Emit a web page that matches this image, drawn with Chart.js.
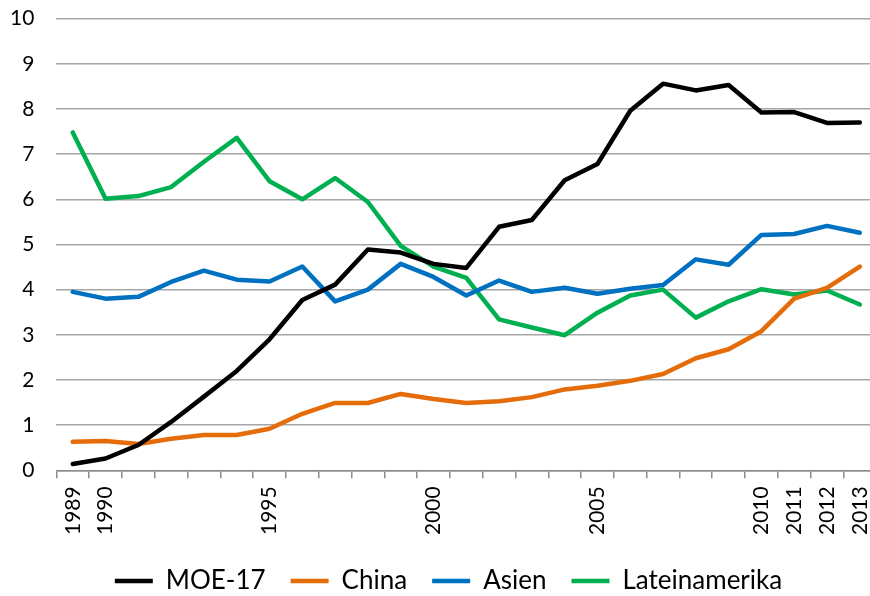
<!DOCTYPE html>
<html>
<head>
<meta charset="utf-8">
<script src="https://cdn.jsdelivr.net/npm/chart.js@4/dist/chart.umd.min.js"></script>
<style>
    html, body { margin: 0; padding: 0; background: #fff; overflow: hidden; }
    #wrap { width: 893px; height: 596px; }
</style>
</head>
<body>
<div id="wrap"><canvas id="lineChart" width="893" height="596"></canvas></div>
<script>
// --- Data ---
const years = ['1989', '1990', '1991', '1992', '1993', '1994', '1995', '1996', '1997', '1998',
    '1999', '2000', '2001', '2002', '2003', '2004', '2005', '2006', '2007', '2008',
    '2009', '2010', '2011', '2012', '2013'];
const shownYears = ['1989', '1990', '1995', '2000', '2005', '2010', '2011', '2012', '2013'];

const moe17 = [0.14, 0.26, 0.56, 1.07, 1.63, 2.20, 2.90, 3.77, 4.11, 4.89,
    4.82, 4.57, 4.48, 5.39, 5.54, 6.42, 6.78, 7.96, 8.56, 8.41,
    8.53, 7.92, 7.93, 7.69, 7.70];
const china = [0.63, 0.65, 0.58, 0.70, 0.78, 0.78, 0.92, 1.25, 1.49, 1.49,
    1.69, 1.58, 1.49, 1.53, 1.62, 1.79, 1.87, 1.98, 2.13, 2.48,
    2.68, 3.08, 3.80, 4.04, 4.51];
const asien = [3.95, 3.80, 3.84, 4.17, 4.42, 4.22, 4.18, 4.51, 3.74, 4.00,
    4.57, 4.28, 3.87, 4.20, 3.95, 4.04, 3.91, 4.02, 4.10, 4.67,
    4.55, 5.21, 5.23, 5.41, 5.26];
const lateinamerika = [7.48, 6.01, 6.07, 6.27, 6.83, 7.36, 6.40, 6.00, 6.47, 5.94,
    4.97, 4.51, 4.26, 3.34, 3.16, 2.99, 3.49, 3.87, 4.00, 3.38,
    3.74, 4.01, 3.89, 3.98, 3.67];

const seriesStyle = (label, data, color) => ({
    label: label,
    data: data,
    borderColor: color,
    backgroundColor: color,
    borderWidth: 4.5,
    borderCapStyle: 'round',
    borderJoinStyle: 'round',
    pointRadius: 0,
    tension: 0,
    fill: false
});

Chart.defaults.font.family = 'Lato, "Open Sans", sans-serif';
Chart.defaults.color = '#000';

const ctx = document.getElementById('lineChart').getContext('2d');
new Chart(ctx, {
    type: 'line',
    data: {
        labels: years,
        datasets: [
            seriesStyle('MOE-17', moe17, '#000000'),
            seriesStyle('China', china, '#E46C0A'),
            seriesStyle('Asien', asien, '#0070C0'),
            seriesStyle('Lateinamerika', lateinamerika, '#00B050')
        ]
    },
    options: {
        responsive: false,
        animation: false,
        // canvas is a bit wider than the window: the reference plot runs past the right edge
        layout: { padding: { left: 4, top: 0, right: 0, bottom: -8 } },
        plugins: {
            title: { display: false },
            tooltip: { enabled: false },
            legend: {
                position: 'bottom',
                labels: {
                    font: { size: 26 },
                    color: '#000',
                    usePointStyle: true,
                    pointStyle: 'line',
                    pointStyleWidth: 38,
                    padding: 25
                }
            }
        },
        scales: {
            x: {
                offset: true,
                grid: {
                    display: true,
                    offset: true,
                    drawOnChartArea: false,
                    drawTicks: true,
                    tickLength: 8,
                    color: '#8c8c8c',
                    lineWidth: 1.5
                },
                border: { display: true, color: '#8c8c8c', width: 1.5 },
                ticks: {
                    autoSkip: false,
                    minRotation: 90,
                    maxRotation: 90,
                    padding: 8,
                    font: { size: 21 },
                    callback: function (value) {
                        const label = this.getLabelForValue(value);
                        return shownYears.includes(label) ? label : '';
                    }
                }
            },
            y: {
                min: 0,
                max: 10,
                ticks: { stepSize: 1, padding: 6, font: { size: 21 } },
                // invisible tick marks keep the gap between labels and plot
                grid: { color: '#a6a6a6', lineWidth: 1.5, drawTicks: true, tickLength: 16, tickColor: 'rgba(0,0,0,0)' },
                border: { display: false }
            }
        }
    }
});
</script>
</body>
</html>
